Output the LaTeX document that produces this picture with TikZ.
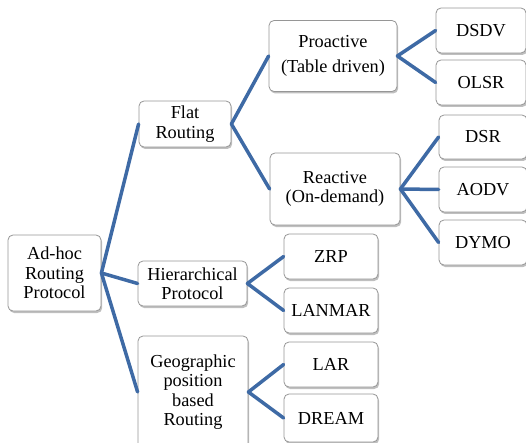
\documentclass[tikz,border=0pt]{standalone}
\usepackage{fontspec}
\setmainfont{Liberation Serif}
\usetikzlibrary{shadows}
\definecolor{linkblue}{RGB}{62,106,165}
\definecolor{boxline}{RGB}{150,150,150}
\begin{document}
\begin{tikzpicture}[x=1pt,y=-1pt,
  box/.style={draw=boxline, line width=0.8pt, fill=white, rounded corners=5pt,
    align=center, inner sep=0pt, font=\fontsize{18.3}{19.5}\selectfont,
    drop shadow={shadow xshift=1.2pt, shadow yshift=-2pt, fill=black, opacity=0.25}},
  link/.style={draw=linkblue, line width=3.5pt, line cap=round, line join=round}]
\useasboundingbox (0,0) rectangle (526,443);
% boxes: center, width, height
\node[box, minimum width=93pt, minimum height=76pt] (root) at (54.5,273) {Ad-hoc\\Routing\\Protocol};
\node[box, minimum width=92pt, minimum height=46pt] (flat) at (185,124) {Flat\\Routing};
\node[box, minimum width=109pt, minimum height=45pt] (hier) at (192.5,283.5) {Hierarchical\\Protocol};
\node[box, minimum width=110pt, minimum height=112pt] (geo) at (193,392) {Geographic\\position\\based\\Routing};
\node[box, minimum width=128pt, minimum height=71pt] (pro) at (333,56) {Proactive\\[6pt](Table driven)};
\node[box, minimum width=130pt, minimum height=72pt] (rea) at (335,189) {Reactive\\(On-demand)};
\node[box, minimum width=90pt, minimum height=45pt] (dsdv) at (481,30.5) {DSDV};
\node[box, minimum width=90pt, minimum height=45pt] (olsr) at (481,82.5) {OLSR};
\node[box, minimum width=88pt, minimum height=44pt] (dsr) at (483,137) {DSR};
\node[box, minimum width=88pt, minimum height=45pt] (aodv) at (483,189.5) {AODV};
\node[box, minimum width=88pt, minimum height=45pt] (dymo) at (483,242.5) {DYMO};
\node[box, minimum width=94pt, minimum height=45pt] (zrp) at (331,256.5) {ZRP};
\node[box, minimum width=94pt, minimum height=45pt] (lanmar) at (331,310.5) {LANMAR};
\node[box, minimum width=94pt, minimum height=45pt] (lar) at (331,364.5) {LAR};
\node[box, minimum width=94pt, minimum height=48pt] (dream) at (331,418) {DREAM};
% connectors
\draw[link] (flat.west) -- (root.east) -- (hier.west);
\draw[link] (root.east) -- (geo.west);
\draw[link] (pro.west) -- (flat.east) -- (rea.west);
\draw[link] (dsdv.west) -- (pro.east) -- (olsr.west);
\draw[link] (dsr.west) -- (rea.east) -- (dymo.west);
\draw[link] (rea.east) -- (aodv.west);
\draw[link] (zrp.west) -- (hier.east) -- (lanmar.west);
\draw[link] (lar.west) -- (geo.east) -- (dream.west);
\end{tikzpicture}
\end{document}
